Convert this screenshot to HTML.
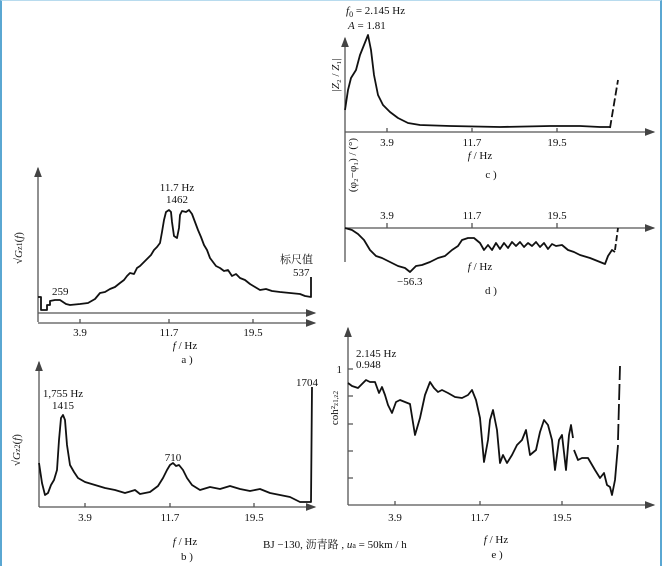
<!DOCTYPE html>
<html><head><meta charset="utf-8"><style>
html,body{margin:0;padding:0;background:#fff}
#w{position:relative;width:662px;height:566px;box-sizing:border-box;border-left:2px solid #5aa7d2;border-right:2px solid #5aa7d2;border-top:1px solid #b8dbee;overflow:hidden}
svg{position:absolute;left:-2px;top:-1px}
text{font-family:"Liberation Serif","Noto Serif CJK SC",serif;font-size:11px;fill:#111}
</style></head><body><div id="w">
<svg width="662" height="566" viewBox="0 0 662 566">
<defs><marker id="ar" markerWidth="8" markerHeight="6" refX="7" refY="3" orient="auto"><path d="M0,0L8,3L0,6z" fill="#444"/></marker></defs>
<g stroke="#555" stroke-width="1.3" fill="none">
<line x1="38" y1="322" x2="38" y2="168" marker-end="url(#ar)"/>
<line x1="38" y1="313" x2="315" y2="313" marker-end="url(#ar)"/>
<line x1="38" y1="323" x2="315" y2="323" marker-end="url(#ar)"/>
<path d="M80,323v-4M169,323v-4M253,323v-4"/>
<line x1="39" y1="507" x2="39" y2="362" marker-end="url(#ar)"/>
<line x1="39" y1="507" x2="315" y2="507" marker-end="url(#ar)"/>
<path d="M85,507v-4M170,507v-4M254,507v-4"/>
<line x1="345" y1="262" x2="345" y2="38" marker-end="url(#ar)"/>
<line x1="345" y1="132" x2="654" y2="132" marker-end="url(#ar)"/>
<path d="M387,132v-4M472,132v-4M557,132v-4"/>
<line x1="345" y1="228" x2="654" y2="228" marker-end="url(#ar)"/>
<path d="M387,228v-5M472,228v-5M557,228v-5"/>
<line x1="348" y1="505" x2="348" y2="328" marker-end="url(#ar)"/>
<line x1="348" y1="505" x2="654" y2="505" marker-end="url(#ar)"/>
<path d="M395,505v-4M480,505v-4M562,505v-4M348,369h5M348,396h5M348,424h5M348,451h5M348,478h5"/>
</g>
<g stroke="#111" stroke-width="1.8" fill="none" stroke-linejoin="round">
<polyline points="38,297 41,297 41,310 47,310 47,305 50,305 50,301 55,300 60,300 63,302 66,304 70,305 80,304 88,303 95,299 100,293 105,292 110,289 115,287 120,283 124,280 127,276 130,273 134,274 137,268 140,266 144,262 148,258 151,255 154,250 157,247 160,243 162,232 164,220 166,212 169,210 171,212 172,222 174,236 177,238 179,228 180,215 182,211 186,212 189,210 192,214 195,222 198,230 201,237 204,245 207,250 210,258 213,262 216,266 220,268 224,271 228,270 232,276 236,274 240,278 245,280 250,284 255,287 260,290 266,289 272,291 280,292 290,293 300,294 305,296 311,297 311,277"/>
<polyline points="39,463 42,483 45,495 48,493 51,485 54,480 57,470 59,440 61,418 63,415 65,420 67,445 70,465 74,472 78,478 85,482 95,485 105,488 115,490 125,493 135,490 140,494 150,492 158,486 163,478 167,470 170,465 173,463 176,466 179,465 183,470 187,478 192,485 200,490 210,487 220,489 230,486 240,489 250,491 260,489 270,493 280,495 290,497 300,502 311,502 312,387"/>
<polyline points="345,110 348,90 351,78 356,70 360,55 364,45 368,35 371,50 374,75 378,95 383,105 390,112 398,118 408,123 420,125 450,126 500,127 550,126 580,126 600,127 610,127"/>
<path d="M610,128L618,80" stroke-dasharray="8,3"/>
<polyline points="345,228 352,230 358,234 364,240 370,250 376,256 382,258 390,262 398,266 405,268 410,272 416,266 422,265 430,262 438,258 445,256 452,250 458,246 462,240 468,238 474,238 480,243 484,250 488,245 492,250 496,243 500,249 504,243 508,248 512,242 516,246 520,242 524,247 528,243 532,246 536,242 540,247 544,243 548,249 552,244 556,246 562,245 568,250 574,252 580,255 590,258 600,262 605,264 608,256 612,250 615,252"/>
<path d="M615,250L618,228" stroke-dasharray="6,3"/>
<polyline points="348,383 352,386 358,388 362,384 366,380 370,382 375,382 379,393 382,387 385,395 388,405 392,413 396,402 400,400 405,402 410,404 415,435 420,418 425,395 430,382 434,388 438,392 442,390 448,393 455,397 462,398 468,395 472,390 476,400 480,418 484,462 488,440 490,420 493,410 497,430 500,463 503,455 507,463 512,455 517,445 522,440 526,430 530,455 536,450 540,432 544,420 548,425 552,440 555,470 559,440 562,435 566,470 569,435 571,425 573,438"/>
<polyline points="574,450 578,460 582,458 588,458 595,470 600,478 604,473 607,485 610,487 612,495 615,480 618,445"/>
<path d="M618,440L620,366" stroke-dasharray="16,4"/>
</g>
<g>
<text x="177" y="191" text-anchor="middle" font-size="12">11.7 Hz</text>
<text x="177" y="203" text-anchor="middle" font-size="12">1462</text>
<text x="52" y="295">259</text>
<text x="280" y="263" font-size="12">标尺值</text>
<text x="293" y="276">537</text>
<text x="80" y="336" text-anchor="middle">3.9</text>
<text x="169" y="336" text-anchor="middle">11.7</text>
<text x="253" y="336" text-anchor="middle">19.5</text>
<text x="185" y="349" text-anchor="middle"><tspan font-style="italic">f</tspan> / Hz</text>
<text x="187" y="363" text-anchor="middle">a )</text>
<text transform="translate(22,248) rotate(-90)" text-anchor="middle">√<tspan font-style="italic">G</tspan><tspan font-size="8">z1</tspan>(<tspan font-style="italic">f</tspan>)</text>
<text x="63" y="397" text-anchor="middle">1,755 Hz</text>
<text x="63" y="409" text-anchor="middle">1415</text>
<text x="173" y="461" text-anchor="middle">710</text>
<text x="296" y="386">1704</text>
<text x="85" y="521" text-anchor="middle">3.9</text>
<text x="170" y="521" text-anchor="middle">11.7</text>
<text x="254" y="521" text-anchor="middle">19.5</text>
<text x="185" y="545" text-anchor="middle"><tspan font-style="italic">f</tspan> / Hz</text>
<text x="187" y="560" text-anchor="middle">b )</text>
<text transform="translate(20,450) rotate(-90)" text-anchor="middle">√<tspan font-style="italic">G</tspan><tspan font-size="8">z2</tspan>(<tspan font-style="italic">f</tspan>)</text>
<text x="346" y="14"><tspan font-style="italic">f</tspan><tspan font-size="8" dy="3">0</tspan><tspan dy="-3"> = 2.145 Hz</tspan></text>
<text x="348" y="29"><tspan font-style="italic">A</tspan> = 1.81</text>
<text x="387" y="146" text-anchor="middle">3.9</text>
<text x="472" y="146" text-anchor="middle">11.7</text>
<text x="557" y="146" text-anchor="middle">19.5</text>
<text x="480" y="159" text-anchor="middle"><tspan font-style="italic">f</tspan> / Hz</text>
<text x="491" y="178" text-anchor="middle">c )</text>
<text transform="translate(339,75) rotate(-90)" text-anchor="middle" font-size="10">|<tspan font-style="italic">Z</tspan>₂ / <tspan font-style="italic">Z</tspan>₁|</text>
<text transform="translate(356,165) rotate(-90)" text-anchor="middle" font-size="10">(φ₂−φ₁) / (°)</text>
<text x="387" y="219" text-anchor="middle">3.9</text>
<text x="472" y="219" text-anchor="middle">11.7</text>
<text x="557" y="219" text-anchor="middle">19.5</text>
<text x="480" y="270" text-anchor="middle"><tspan font-style="italic">f</tspan> / Hz</text>
<text x="397" y="285">−56.3</text>
<text x="491" y="294" text-anchor="middle">d )</text>
<text x="356" y="357">2.145 Hz</text>
<text x="356" y="368">0.948</text>
<text x="342" y="373" text-anchor="end">1</text>
<text x="395" y="521" text-anchor="middle">3.9</text>
<text x="480" y="521" text-anchor="middle">11.7</text>
<text x="562" y="521" text-anchor="middle">19.5</text>
<text x="496" y="543" text-anchor="middle"><tspan font-style="italic">f</tspan> / Hz</text>
<text x="497" y="558" text-anchor="middle">e )</text>
<text transform="translate(338,408) rotate(-90)" text-anchor="middle" font-size="10">coh²<tspan font-size="7">z1,z2</tspan></text>
<text x="263" y="548">BJ −130, 沥青路 , <tspan font-style="italic">u</tspan><tspan font-size="8">a</tspan> = 50km / h</text>
</g>
</svg></div></body></html>
